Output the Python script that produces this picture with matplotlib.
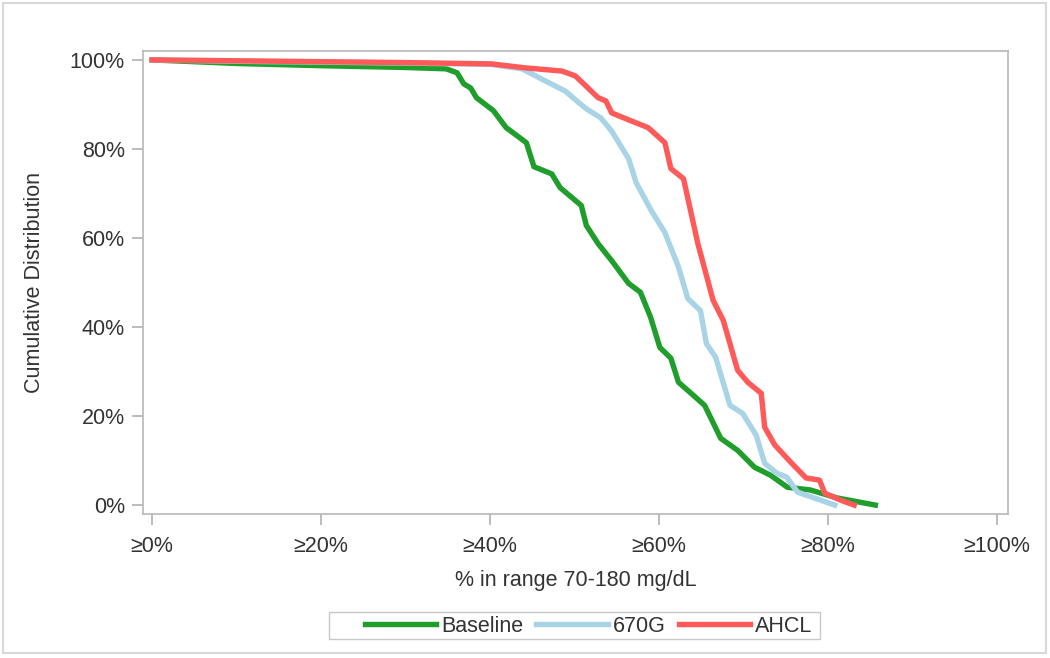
import matplotlib
matplotlib.use("Agg")
import matplotlib.pyplot as plt
from matplotlib.patches import Rectangle

plt.rcParams['font.family'] = ['Liberation Sans', 'DejaVu Sans']

# Cumulative distribution curves (% in range vs % of participants)
baseline_x = [0, 10, 20, 30, 34.8, 36.1, 36.9, 37.7, 38.4, 40.4, 41.9, 44.3, 45.2, 47.3,
              48.3, 50.8, 51.4, 52.8, 54.4, 56.4, 57.8, 59.0, 60.1, 61.4, 62.3, 63.8,
              65.4, 67.3, 69.3, 71.3, 73.2, 75.2, 77.9, 81.1, 85.6]
baseline_y = [100, 99.2, 98.7, 98.3, 98.0, 97.1, 94.6, 93.7, 91.5, 88.6, 84.8, 81.4, 76.0, 74.4,
              71.3, 67.3, 62.8, 58.7, 54.9, 49.8, 47.8, 42.2, 35.4, 33.0, 27.6, 25.1,
              22.4, 15.0, 12.3, 8.5, 6.7, 4.0, 3.4, 1.6, 0]

g670_x = [0, 10, 20, 30, 40, 43.8, 45.8, 48.9, 50.5, 51.4, 53.1, 54.4, 56.4, 57.3, 59.1,
          60.7, 61.4, 62.3, 63.4, 64.9, 65.6, 66.7, 68.4, 69.9, 71.5, 72.5, 73.9, 75.1,
          76.4, 80.8]
g670_y = [100, 99.7, 99.5, 99.3, 99.0, 98.0, 96.0, 93.0, 90.4, 89.0, 87.0, 84.0, 77.8, 72.4, 66.1,
          61.2, 57.8, 53.5, 46.4, 43.7, 36.3, 33.2, 22.4, 20.6, 15.7, 9.4, 7.2, 6.3,
          2.9, 0]

ahcl_x = [0, 10, 20, 30, 40.2, 44.2, 48.5, 50.1, 51.7, 52.8, 53.7, 54.4, 56.7, 58.7, 60.7,
          61.4, 62.9, 64.6, 66.4, 67.6, 69.3, 70.5, 72.1, 72.5, 73.7, 75.6, 77.4, 79.0,
          79.6, 81.5, 83.1]
ahcl_y = [100, 99.8, 99.6, 99.4, 99.1, 98.2, 97.5, 96.4, 93.5, 91.5, 90.8, 88.1, 86.3, 84.8, 81.4,
          75.6, 73.3, 58.7, 46.0, 41.5, 30.3, 27.6, 25.1, 17.5, 13.5, 9.6, 6.1, 5.6,
          2.7, 1.1, 0]

x_ticks = [0, 20, 40, 60, 80, 100]
x_labels = ['≥0%', '≥20%', '≥40%', '≥60%', '≥80%', '≥100%']
y_ticks = [0, 20, 40, 60, 80, 100]
y_labels = ['0%', '20%', '40%', '60%', '80%', '100%']

fs = 15.5
txt = '#333333'

fig = plt.figure(figsize=(10.5, 6.58), dpi=100)
ax = fig.add_axes([143 / 1050, 1 - 514 / 658, 865 / 1050, 463 / 658])

lw = 3.9
ax.plot(baseline_x, baseline_y, color='#1f9e2c', lw=lw, label='Baseline')
ax.plot(g670_x, g670_y, color='#a8d4e6', lw=lw, label='670G')
ax.plot(ahcl_x, ahcl_y, color='#ff5a5a', lw=lw, label='AHCL')

ax.set_xlim(-1.07, 101.3)
ax.set_ylim(-2.0, 102.0)
ax.set_xticks(x_ticks)
ax.set_xticklabels(x_labels)
ax.set_yticks(y_ticks)
ax.set_yticklabels(y_labels)
ax.tick_params(axis='both', colors='#b0b0b0', labelcolor=txt, labelsize=fs,
               length=8, width=1.2)
ax.tick_params(axis='x', pad=8)
ax.tick_params(axis='y', pad=5)
for s in ax.spines.values():
    s.set_color('#b8b8b8')
    s.set_linewidth(1.2)

ax.set_xlabel('% in range 70-180 mg/dL', fontsize=fs, color=txt, labelpad=9)
ax.set_ylabel('Cumulative Distribution', fontsize=fs, color=txt, labelpad=18)

# legend text/handles without frame, frame drawn separately
leg = fig.legend(loc='center left', bbox_to_anchor=(365 / 1050, 1 - 626 / 658), ncol=3,
                 frameon=False, fontsize=fs, handlelength=3.3, handletextpad=0.25,
                 columnspacing=0.6, borderpad=0, borderaxespad=0)
for t in leg.get_texts():
    t.set_color(txt)
fig.patches.append(Rectangle((329 / 1050, 1 - 639 / 658), 491 / 1050, 27 / 658,
                             transform=fig.transFigure, fill=False,
                             edgecolor='#c8c8c8', lw=1.0))

# outer frame
fig.patches.append(Rectangle((3 / 1050, 5 / 658), 1043 / 1050, 650 / 658, transform=fig.transFigure,
                             fill=False, edgecolor='#d8d8d8', lw=1.5))

fig.savefig('out.png', dpi=100)
